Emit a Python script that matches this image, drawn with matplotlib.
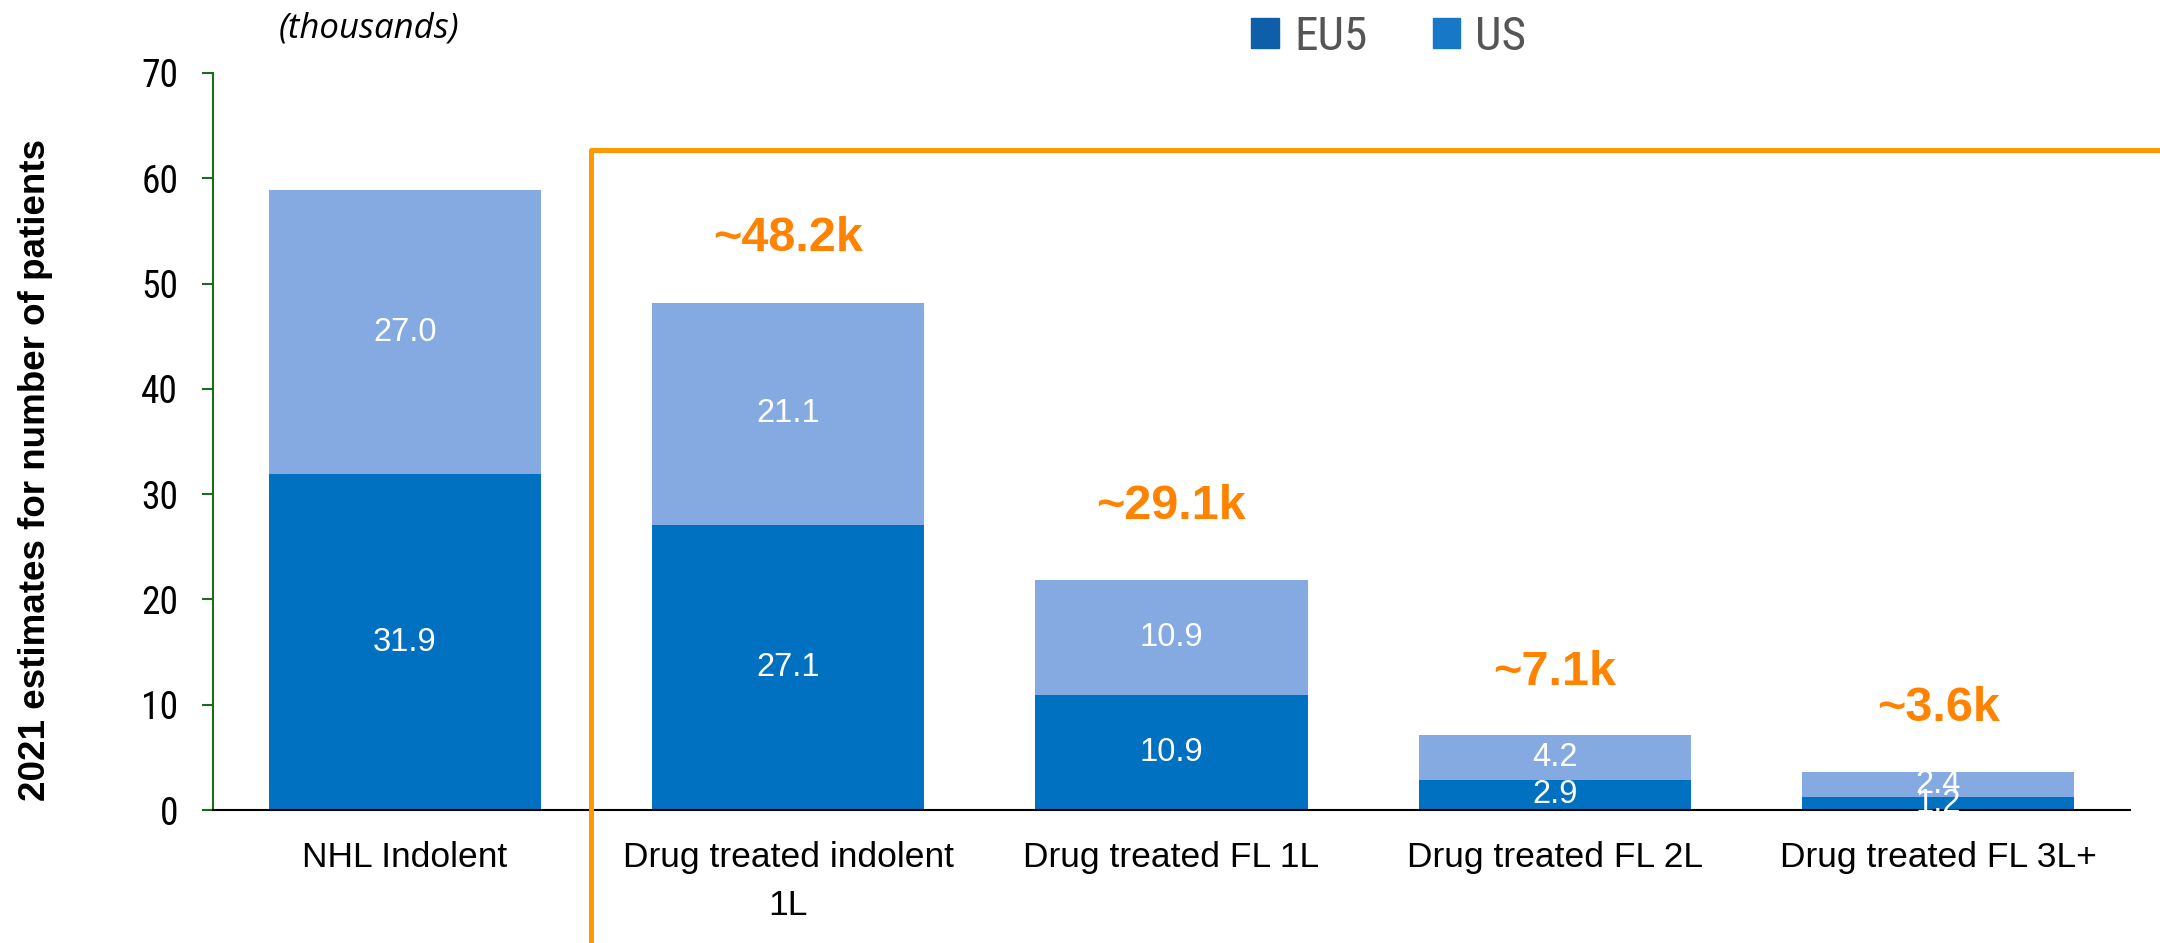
import matplotlib
matplotlib.use("Agg")
import matplotlib.pyplot as plt
from matplotlib.patches import Patch, Rectangle

# --- данные ---
categories = ["NHL Indolent", "Drug treated indolent\n1L", "Drug treated FL 1L",
              "Drug treated FL 2L", "Drug treated FL 3L+"]
bottom_vals = [31.9, 27.1, 10.9, 2.9, 1.2]
top_vals = [27.0, 21.1, 10.9, 4.2, 2.4]
total_labels = ["", "~48.2k", "~29.1k", "~7.1k", "~3.6k"]
total_label_y = [None, 54.3, 28.8, 13.1, 9.6]
legend_names = ["EU5", "US"]

narrow = ["Roboto Condensed", "DejaVu Sans Condensed", "Liberation Sans"]
arial = ["Liberation Sans", "DejaVu Sans"]
c_dark = "#0070C0"
c_light = "#84AAE1"
c_orange = "#FF8200"
c_green = "#1E6B1E"

fig = plt.figure(figsize=(21.6, 9.43), dpi=100)
ax = fig.add_axes([0.0986, 0.141, 0.8875, 0.7816])

x = range(len(categories))
b1 = ax.bar(x, bottom_vals, width=0.71, color=c_dark, zorder=2)
b2 = ax.bar(x, top_vals, width=0.71, bottom=bottom_vals, color=c_light, zorder=2)

# подписи внутри сегментов
for i in x:
    ax.text(i, bottom_vals[i] / 2, f"{bottom_vals[i]:.1f}", ha="center", va="center",
            color="white", fontsize=23.5, family=arial, zorder=3)
    ax.text(i, bottom_vals[i] + top_vals[i] / 2, f"{top_vals[i]:.1f}", ha="center",
            va="center", color="white", fontsize=23.5, family=arial, zorder=3)
    if total_labels[i]:
        ax.text(i, total_label_y[i], total_labels[i], ha="center", va="center",
                color=c_orange, fontsize=35, fontweight="bold", family=arial)

ax.set_xlim(-0.5, 4.5)
ax.set_ylim(0, 70)
ax.set_yticks(range(0, 71, 10))
ax.set_xticks(list(x))
ax.set_xticklabels(categories, fontsize=25.5, family=arial)
for lbl in ax.get_xticklabels():
    lbl.set_linespacing(1.6)
ax.tick_params(axis="x", length=0, pad=22)
ax.tick_params(axis="y", length=8, width=1.5, color=c_green, pad=17, labelsize=27)
for lbl in ax.get_yticklabels():
    lbl.set_family(narrow)

for s in ["top", "right"]:
    ax.spines[s].set_visible(False)
ax.spines["left"].set_color(c_green)
ax.spines["left"].set_linewidth(1.5)
ax.spines["bottom"].set_color("black")
ax.spines["bottom"].set_linewidth(1.5)

ax.set_ylabel("2021 estimates for number of patients", fontsize=26.5, fontweight="bold",
              family=arial)
ax.yaxis.set_label_coords(-0.0835, 0.461)

fig.text(0.171, 0.97, "(thousands)", fontsize=25, style="italic",
         family=["Open Sans", "DejaVu Sans"], ha="center", va="center")

# легенда
handles = [Patch(color="#0F5EA9"), Patch(color="#1778C7")]
fig.legend(handles, legend_names, loc="center", bbox_to_anchor=(0.643, 0.961), ncol=2,
           frameon=False, prop={"family": narrow, "size": 34}, labelcolor="#555555",
           handlelength=0.58, handleheight=0.58, handletextpad=0.33, columnspacing=1.38)

# оранжевая рамка
fig.patches.append(Rectangle((0.2736, -0.03), 0.75, 0.871, transform=fig.transFigure,
                             fill=False, edgecolor="#FF9900", linewidth=3.6,
                             joinstyle="round", zorder=5))

fig.savefig("out.png", dpi=100, facecolor="white")
